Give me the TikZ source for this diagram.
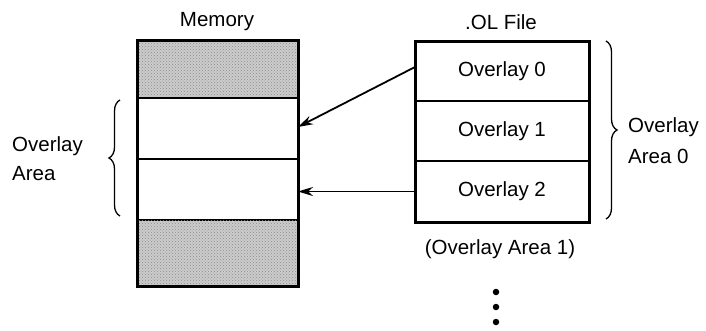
\documentclass[tikz,border=0pt]{standalone}
\usepackage{fontspec}
\setmainfont{Liberation Sans}
\usetikzlibrary{decorations.pathreplacing,arrows.meta,patterns}
\definecolor{stipple}{gray}{0.8}
\begin{document}
\begin{tikzpicture}[x=1pt,y=-1pt,
  font=\fontsize{20.5}{26}\selectfont,
  seg/.style={draw, line width=1.8pt, inner sep=0pt, outer sep=0pt},
  shaded/.style={seg, fill=stipple, postaction={pattern=crosshatch dots, pattern color=black!45}},
  frame/.style={draw, line width=3pt},
  lbl/.style={inner sep=0pt},
  arr/.style={line width=1.8pt, -{Stealth[length=15pt,width=9pt]}},
  brc/.style={line width=1.3pt, decorate, decoration={brace, amplitude=11pt}},
  dot/.style={circle, fill, inner sep=0pt, minimum size=6.5pt}]
\useasboundingbox (0,0) rectangle (706,330);

% Memory column
\node[shaded, minimum width=161pt, minimum height=58pt] (memtop) at (217.5,69) {};
\node[seg, minimum width=161pt, minimum height=61pt] (mem1) at (217.5,128.5) {};
\node[seg, minimum width=161pt, minimum height=61pt] (mem2) at (217.5,189.5) {};
\node[shaded, minimum width=161pt, minimum height=66pt] (membot) at (217.5,253) {};
\draw[frame] (memtop.north west) rectangle (membot.south east);
\node[lbl] (memlbl) at (217,22) {Memory};

% .OL file column
\node[seg, minimum width=174pt, minimum height=60pt] (ol0) at (502,71) {Overlay 0};
\node[seg, minimum width=174pt, minimum height=60pt] (ol1) at (502,131) {Overlay 1};
\node[seg, minimum width=174pt, minimum height=61pt] (ol2) at (502,191.5) {Overlay 2};
\draw[frame] (ol0.north west) rectangle (ol2.south east);
\node[lbl] (ollbl) at (501,22) {.OL File};

% arrows
\draw[arr] ([yshift=4pt]ol0.west) -- ([yshift=1.5pt]mem1.east);
\coordinate (a2) at (ol2.west -| mem2.east);
\draw[arr] (ol2.west) -- (a2);

% left brace
\coordinate (lb1) at (120,216);
\coordinate (lb2) at (120,100);
\draw[brc] (lb1) -- (lb2);
\node[lbl, anchor=west] (lov) at (12,146) {Overlay};
\node[lbl, anchor=west] (lar) at (12,174) {Area};

% right brace
\coordinate (rb1) at (606,41);
\coordinate (rb2) at (606,219);
\draw[brc] (rb1) -- (rb2);
\node[lbl, anchor=west] (rov) at (628,127) {Overlay};
\node[lbl, anchor=west] (rar) at (628,156) {Area 0};

% overlay area 1
\node[lbl] (oa1) at (500,249) {(Overlay Area 1)};
\node[dot] (d1) at (496,292) {};
\node[dot] (d2) at (496,307) {};
\node[dot] (d3) at (496,322) {};
\end{tikzpicture}
\end{document}
